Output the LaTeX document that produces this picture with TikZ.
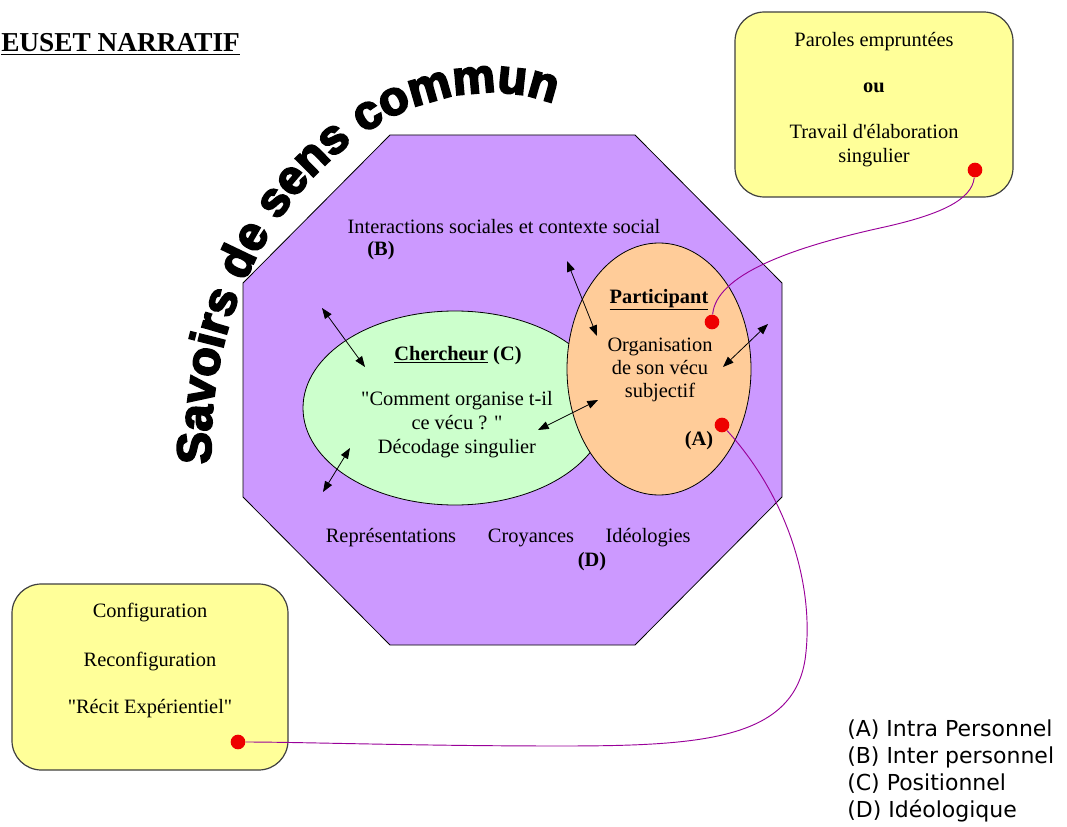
\documentclass[tikz,border=0pt]{standalone}
\usepackage{fontspec}
\setmainfont{Liberation Serif}[Ligatures=TeXOff]
\newfontfamily\legendfont{DejaVu Sans}
\newfontfamily\arcfont{Liberation Sans Bold}[FakeBold=4]
\usetikzlibrary{shapes.geometric,arrows.meta,decorations.text}
\definecolor{octofill}{HTML}{CC99FF}
\definecolor{greenfill}{HTML}{CCFFCC}
\definecolor{orangefill}{HTML}{FFCC99}
\definecolor{yellowfill}{HTML}{FFFF99}
\definecolor{linkcol}{HTML}{990099}
\definecolor{dotred}{HTML}{EE0000}
\newcommand\dq{\symbol{34}}
\newcommand\sq{\symbol{39}}
\begin{document}
\begin{tikzpicture}[x=0.75pt,y=-0.75pt,
  body/.style={font=\fontsize{15.3}{18}\selectfont, inner sep=0pt, anchor=base},
  bodyb/.style={body, font=\fontsize{15.3}{18}\selectfont\bfseries},
  legend/.style={font=\legendfont\fontsize{16.5}{20}\selectfont, inner sep=0pt, anchor=base west},
  ybox/.style={draw=black!75, line width=0.9pt, fill=yellowfill, rounded corners=22pt, inner sep=0pt},
  zone/.style={draw=black, line width=0.6pt},
  dbl/.style={{Triangle[length=8pt,width=6pt]}-{Triangle[length=8pt,width=6pt]}, line width=0.6pt},
  link/.style={draw=linkcol, line width=0.7pt},
  reddot/.style={circle, fill=dotred, inner sep=0pt, minimum size=11pt}
]
\path[use as bounding box, fill=white] (0,0) rectangle (1067,827);

% title
\node[font=\fontsize{20.5}{24}\selectfont\bfseries, inner sep=0pt, anchor=base west] (title) at (1,52) {\underline{EUSET NARRATIF}};

% arc text
\path[decorate, decoration={text along path, text align={left},
  text={|\arcfont\fontsize{36}{40}\selectfont|Savoirs de sens commun}}]
  (211,464) .. controls (206,300) and (290,165) .. (400,113) .. controls (470,83) and (530,88) .. (575,114);

% octagon
\draw[zone, fill=octofill] (390,135) -- (635,135) -- (782,283) -- (782,497) -- (635,645) -- (390,645) -- (243,497) -- (243,283) -- cycle;

% ellipses
\node[zone, ellipse, fill=greenfill, minimum width=228pt, minimum height=145.5pt, inner sep=0pt] (cher) at (455,408) {};
\node[zone, ellipse, fill=orangefill, minimum width=138pt, minimum height=189pt, inner sep=0pt] (part) at (659,369) {};

% boxes
\node[ybox, minimum width=208.5pt, minimum height=138.75pt] (boxtr) at (874,104.5) {};
\node[ybox, minimum width=207pt, minimum height=139.5pt] (boxbl) at (150,677) {};

% dots
\node[reddot] (d1) at (712,322) {};
\node[reddot] (d2) at (975,170) {};
\node[reddot] (d3) at (722,425) {};
\node[reddot] (d4) at (238,742) {};

% connectors
\draw[link] (d1) .. controls (716,275) and (790,248) .. (880,228) .. controls (940,215) and (972,200) .. (d2);
\draw[link] (d3) .. controls (790,500) and (815,590) .. (805,660) .. controls (792,740) and (700,746) .. (560,746) .. controls (420,746) and (300,742) .. (d4);

% arrows
\coordinate (a1s) at (322,308); \coordinate (a1e) at (365,367);
\coordinate (a2s) at (323,492); \coordinate (a2e) at (350,448);
\coordinate (a3s) at (538,430); \coordinate (a3e) at (598,400);
\coordinate (a4s) at (567,261); \coordinate (a4e) at (597,336);
\coordinate (a5s) at (768,324); \coordinate (a5e) at (723,367);
\draw[dbl] (a1s) -- (a1e);
\draw[dbl] (a2s) -- (a2e);
\draw[dbl] (a3s) -- (a3e);
\draw[dbl] (a4s) -- (a4e);
\draw[dbl] (a5s) -- (a5e);

% texts in octagon
\node[body] (inter) at (504,234) {Interactions sociales et contexte social};
\node[bodyb] (labB) at (381,256) {(B)};
\node[bodyb] (chertitle) at (458,360) {\underline{Chercheur} (C)};
\node[body] (chl1) at (457,405) {\dq Comment organise t-il};
\node[body] (chl2) at (457,429) {ce vécu ? \dq};
\node[body] (chl3) at (457,453) {Décodage singulier};
\node[bodyb] (parttitle) at (659,303) {\underline{Participant}};
\node[body] (pl1) at (660,351) {Organisation};
\node[body] (pl2) at (660,374) {de son vécu};
\node[body] (pl3) at (660,397) {subjectif};
\node[bodyb] (labA) at (699,445) {(A)};
\node[body] (repr) at (391,542) {Représentations};
\node[body] (croy) at (531,542) {Croyances};
\node[body] (ideo) at (648,542) {Idéologies};
\node[bodyb] (labD) at (592,566) {(D)};

% box texts
\node[body] (tr1) at (874,47) {Paroles empruntées};
\node[bodyb] (tr2) at (874,93) {ou};
\node[body] (tr3) at (874,139) {Travail d\sq élaboration};
\node[body] (tr4) at (874,163) {singulier};
\node[body] (bl1) at (150,617) {Configuration};
\node[body] (bl2) at (150,666) {Reconfiguration};
\node[body] (bl3) at (150,713) {\dq Récit Expérientiel\dq};

% legend
\node[legend] (legA) at (847,736) {(A) Intra Personnel};
\node[legend] (legB) at (847,763) {(B) Inter personnel};
\node[legend] (legC) at (847,790) {(C) Positionnel};
\node[legend] (legD) at (847,817) {(D) Idéologique};
\end{tikzpicture}
\end{document}
